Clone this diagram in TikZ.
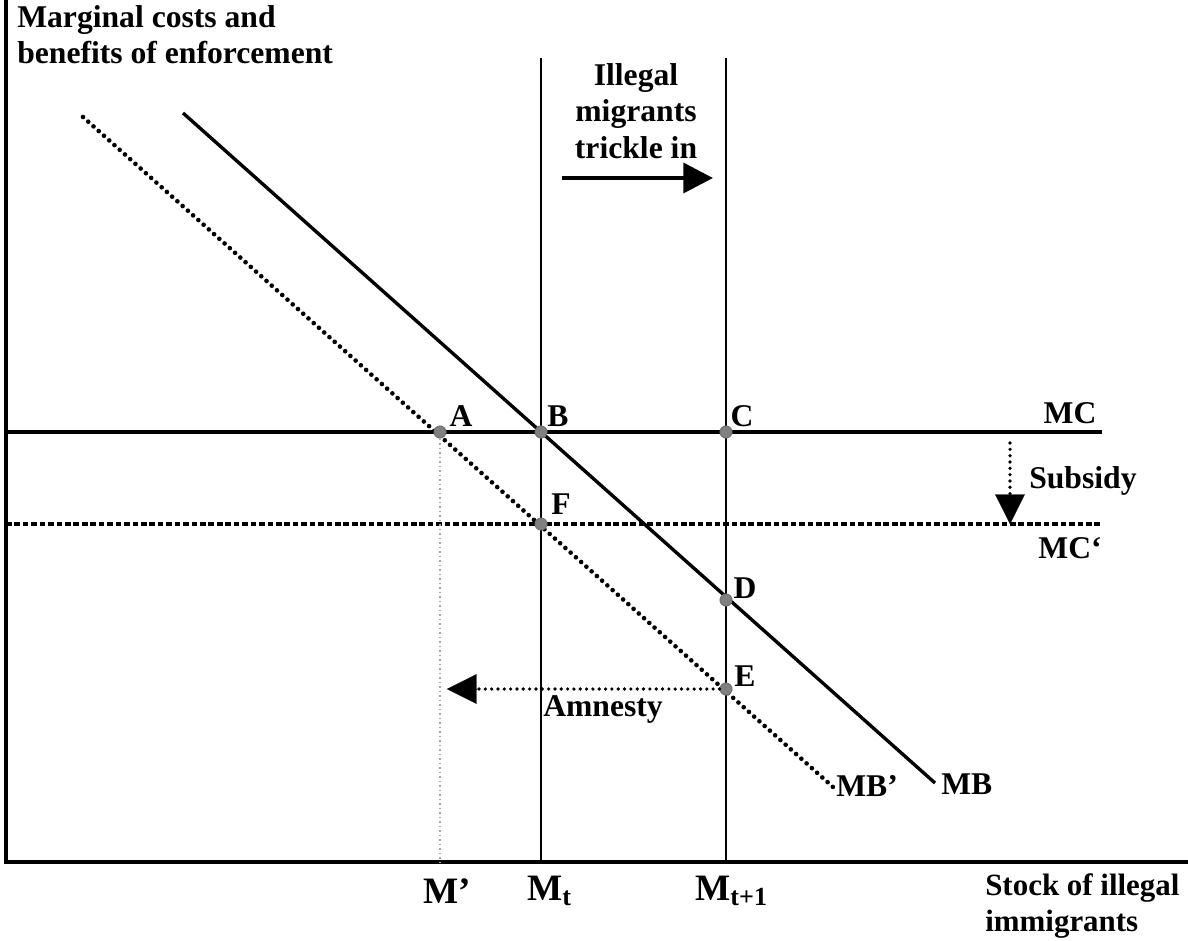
\documentclass[tikz,border=0pt]{standalone}
\usepackage{fontspec}
\setmainfont{Liberation Serif}
\usetikzlibrary{arrows.meta}
\begin{document}
\begin{tikzpicture}[x=0.025cm,y=-0.025cm,
  lbl/.style={font=\fontsize{22.5}{26}\selectfont\bfseries, inner sep=0pt},
  mlbl/.style={font=\fontsize{26.5}{30}\selectfont\bfseries, inner sep=0pt},
  pt/.style={circle, fill=gray, draw=black!55, line width=0.8pt, minimum size=8.5pt, inner sep=0pt},
  axis/.style={line width=3pt},
  curve/.style={line width=2.4pt},
  vline/.style={line width=1.4pt},
  dotcurve/.style={line width=3.3pt, line cap=round, dash pattern=on 0pt off 5pt},
  dotarrow/.style={line width=2.6pt, line cap=round, dash pattern=on 0pt off 4.5pt},
  dashline/.style={line width=2.4pt, dash pattern=on 4pt off 2pt},
  bigtip/.style={line width=0.1pt, -{Triangle[length=21pt,width=21pt]}}
  ]
\useasboundingbox (0,0) rectangle (1188,940);
% axes
\coordinate (ytop) at (6,0);
\coordinate (o) at (6,862);
\coordinate (xend) at (1188,862);
\draw[axis] (ytop) -- (o) -- (xend);
% verticals
\coordinate (mttop) at (541,58);
\coordinate (mtbot) at (541,862);
\coordinate (mt1top) at (726,58);
\coordinate (mt1bot) at (726,862);
\draw[vline] (mttop) -- (mtbot);
\draw[vline] (mt1top) -- (mt1bot);
% MC and MC'
\coordinate (mcl) at (6,432);
\coordinate (mcr) at (1102,432);
\coordinate (mcpl) at (6,524);
\coordinate (mcpr) at (1102,524);
\draw[curve] (mcl) -- (mcr);
\draw[dashline] (mcpl) -- (mcpr);
% MB and MB'
\coordinate (mbs) at (183,113);
\coordinate (mbe) at (935,783);
\coordinate (mbps) at (83,117);
\coordinate (mbpe) at (833,787);
\draw[curve] (mbs) -- (mbe);
\draw[dotcurve] (mbps) -- (mbpe);
% M' dotted gray
\coordinate (mpbot) at (440,862);
\node[pt] (A) at (440,432) {};
\draw[gray!70, line width=1.2pt, dotted] (A) -- (mpbot);
% points
\node[pt] (B) at (541,432) {};
\node[pt] (C) at (726,432) {};
\node[pt] (F) at (541,524) {};
\node[pt] (D) at (726,600) {};
\node[pt] (E) at (726,689) {};
% point labels
\node[lbl] (lA) at (461,416) {A};
\node[lbl] (lB) at (558,416) {B};
\node[lbl] (lC) at (742,416) {C};
\node[lbl] (lF) at (561,504) {F};
\node[lbl] (lD) at (745,588) {D};
\node[lbl] (lE) at (745,676) {E};
% amnesty arrow
\coordinate (amtip) at (447,689);
\draw[dotarrow] (E) -- (475,689);
\draw[bigtip] (470,689) -- (amtip);
\node[lbl] (amn) at (603,709) {Amnesty};
% subsidy arrow
\coordinate (subs) at (1010,443);
\coordinate (subt) at (1010,524);
\draw[dotarrow] (subs) -- (1010,498);
\draw[bigtip] (1010,495) -- (subt);
\node[lbl, anchor=west] (sublbl) at (1029,481) {Subsidy};
% trickle arrow
\coordinate (trs) at (562,178);
\coordinate (trt) at (713,178);
\draw[line width=3.2pt, -{Triangle[length=21pt,width=21pt]}] (trs) -- (trt);
\node[lbl, align=center] (trlbl) at (636,111) {Illegal\\migrants\\trickle in};
% curve labels
\node[lbl] (mclbl) at (1070,413) {MC};
\node[lbl] (mcplbl) at (1070,548) {MC‘};
\node[lbl, anchor=west] (mblbl) at (941,784) {MB};
\node[lbl, anchor=west] (mbplbl) at (836,786) {MB’};
% axis labels
\node[mlbl, anchor=west] (mplbl) at (423,891) {M’};
\node[mlbl, anchor=west] (mtlbl) at (527,891) {M\textsubscript{t}};
\node[mlbl, anchor=west] (mt1lbl) at (695,891) {M\textsubscript{t+1}};
\node[lbl, anchor=north west, align=left] (ylbl) at (17,5) {Marginal costs and\\benefits of enforcement};
\node[lbl, anchor=north west, align=left, font=\fontsize{22}{26}\selectfont\bfseries] (xlbl) at (985,873) {Stock of illegal\\immigrants};
\end{tikzpicture}
\end{document}
